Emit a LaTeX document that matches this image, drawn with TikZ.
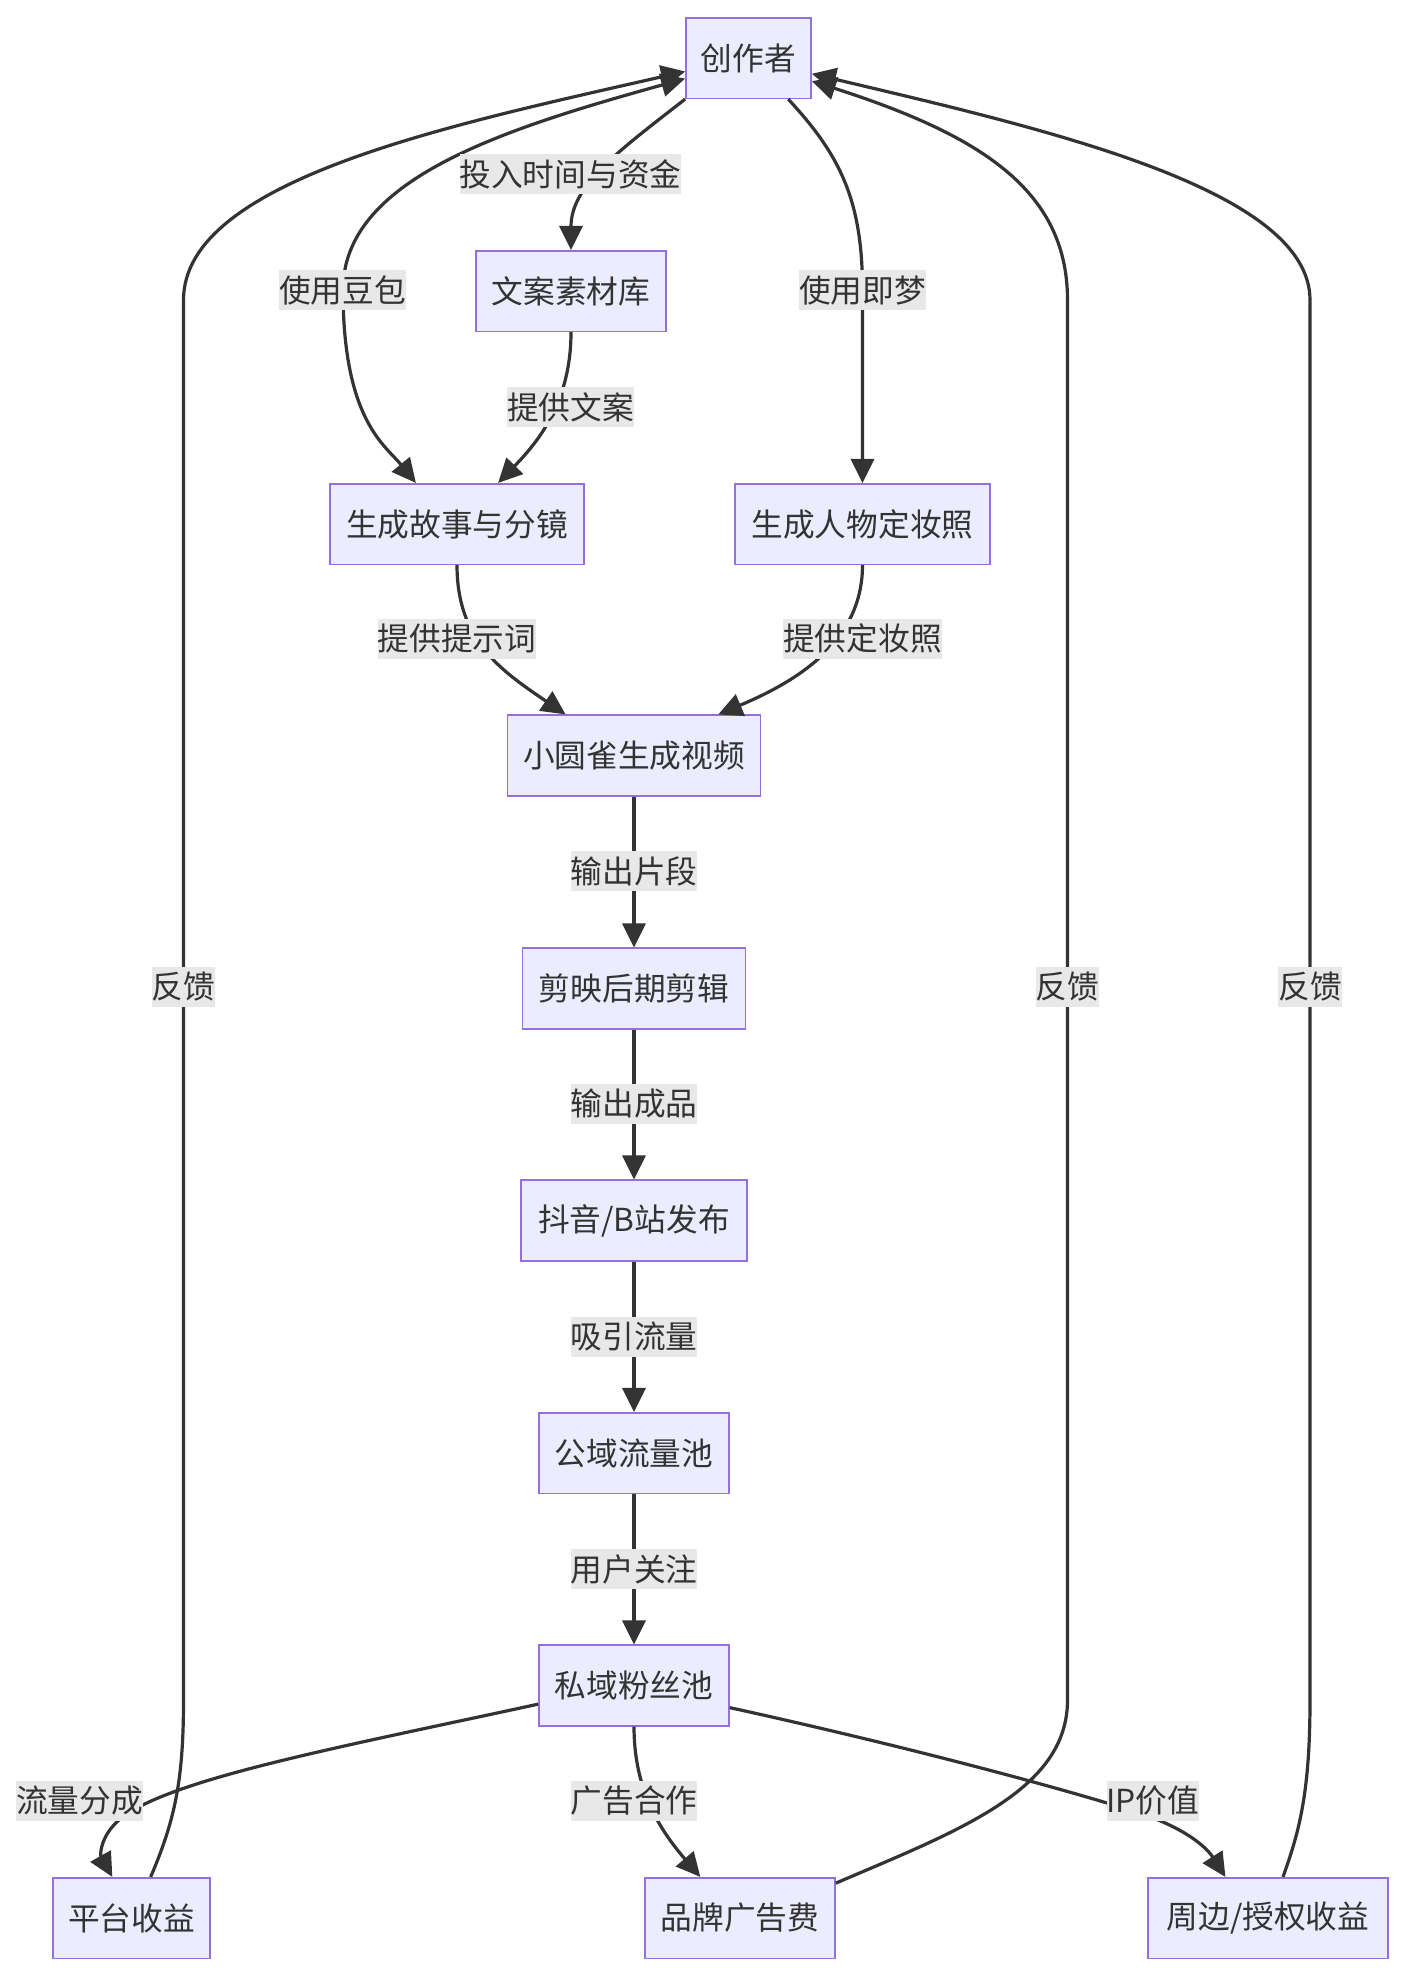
\documentclass[tikz,border=0pt]{standalone}
\usepackage{fontspec}
\newfontfamily\cjk{Noto Sans CJK SC}
\usetikzlibrary{arrows.meta}
\definecolor{nodefill}{HTML}{ECECFF}
\definecolor{nodeborder}{HTML}{9370DB}
\definecolor{edgecol}{HTML}{333333}
\definecolor{lblbg}{HTML}{E8E8E8}
\definecolor{txtcol}{HTML}{333333}
\begin{document}
\begin{tikzpicture}[x=1pt,y=-1pt,
  box/.style={draw=nodeborder, fill=nodefill, line width=1.6pt, minimum height=80.6pt,
    inner xsep=15pt, inner ysep=0pt, text=txtcol, font=\cjk\fontsize{31.7pt}{38pt}\selectfont},
  lbl/.style={fill=lblbg, inner sep=0pt, minimum height=40pt, text=txtcol,
    font=\cjk\fontsize{31.7pt}{38pt}\selectfont},
  edge/.style={draw=edgecol, line width=3.2pt, -{Triangle[length=24pt,width=23pt]}},
  bothedge/.style={draw=edgecol, line width=3.2pt, {Triangle[length=24pt,width=23pt]}-{Triangle[length=24pt,width=23pt]}}
]
\fill[white] (0,0) rectangle (1404,1974);
\useasboundingbox (0,0) rectangle (1404,1974);

% nodes
\node[box, minimum width=125pt] (cz) at (748.5,58) {创作者};
\node[box, minimum width=190pt] (wa) at (571,291) {文案素材库};
\node[box, minimum width=254pt] (sg) at (457,524) {生成故事与分镜};
\node[box, minimum width=255pt] (sr) at (862.5,524) {生成人物定妆照};
\node[box, minimum width=253pt] (xy) at (634,755.5) {小圆雀生成视频};
\node[box, minimum width=223pt] (jy) at (634,988.5) {剪映后期剪辑};
\node[box, minimum width=226pt] (dy) at (634,1220.5) {抖音/B站发布};
\node[box, minimum width=190pt] (gy) at (634,1453) {公域流量池};
\node[box, minimum width=190pt] (sy) at (634,1685.5) {私域粉丝池};
\node[box, minimum width=157pt] (pt) at (131.5,1918) {平台收益};
\node[box, minimum width=190pt] (pp) at (740,1918) {品牌广告费};
\node[box, minimum width=240pt] (zb) at (1268,1918) {周边/授权收益};

% edges
\draw[edge] (cz.south west) .. controls (620,150) and (571,185) .. (wa.north);
\draw[bothedge] (cz.198.6) .. controls (500,130) and (343,180) .. (343,290)
   .. controls (343,420) and (385,445) .. (sg.135.5);
\draw[edge] (cz.314) .. controls (840,155) and (862.5,200) .. (862.5,290) -- (sr.north);
\draw[edge] (wa.south) .. controls (571,400) and (540,440) .. (sg.45);
\draw[edge] (sg.south) .. controls (457,640) and (500,670) .. (xy.149.7);
\draw[edge] (sr.south) .. controls (862.5,640) and (800,680) .. (xy.26.2);
\draw[edge] (xy.south) -- (jy.north);
\draw[edge] (jy.south) -- (dy.north);
\draw[edge] (dy.south) -- (gy.north);
\draw[edge] (gy.south) -- (sy.north);
\draw[edge] (sy.191.6) .. controls (350,1745) and (190,1775) .. (130,1812)
   .. controls (100,1830) and (100,1855) .. (pt.115.8);
\draw[edge] (sy.south) .. controls (634,1790) and (660,1830) .. (pp.134.8);
\draw[edge] (sy.347.8) .. controls (900,1745) and (1050,1785) .. (1130,1810)
   .. controls (1180,1825) and (1205,1845) .. (zb.136.2);
\draw[edge] (pt.65.3) .. controls (175,1820) and (183.5,1780) .. (183.5,1700) -- (183.5,300)
   .. controls (183.5,180) and (450,125) .. (cz.192.6);
\draw[edge] (pp.20.5) .. controls (960,1830) and (1067.5,1790) .. (1067.5,1700) -- (1067.5,300)
   .. controls (1067.5,190) and (980,135) .. (cz.340);
\draw[edge] (zb.70.8) .. controls (1300,1830) and (1310,1790) .. (1310,1700) -- (1310,300)
   .. controls (1310,190) and (1050,130) .. (cz.346.6);

% labels
\node[lbl] (l1) at (570.5,174) {投入时间与资金};
\node[lbl] (l2) at (342.5,290) {使用豆包};
\node[lbl] (l3) at (862.5,290) {使用即梦};
\node[lbl] (l4) at (570.5,407) {提供文案};
\node[lbl] (l5) at (457,638.5) {提供提示词};
\node[lbl] (l6) at (862.5,638.5) {提供定妆照};
\node[lbl] (l7) at (634,871) {输出片段};
\node[lbl] (l8) at (634,1104) {输出成品};
\node[lbl] (l9) at (634,1336.5) {吸引流量};
\node[lbl] (l10) at (634,1569) {用户关注};
\node[lbl] (l11) at (183.5,987) {反馈};
\node[lbl] (l12) at (1067.5,987) {反馈};
\node[lbl] (l13) at (1310,987) {反馈};
\node[lbl] (l14) at (79.5,1801) {流量分成};
\node[lbl] (l15) at (634,1801) {广告合作};
\node[lbl] (l16) at (1153,1801) {IP价值};
\end{tikzpicture}
\end{document}
